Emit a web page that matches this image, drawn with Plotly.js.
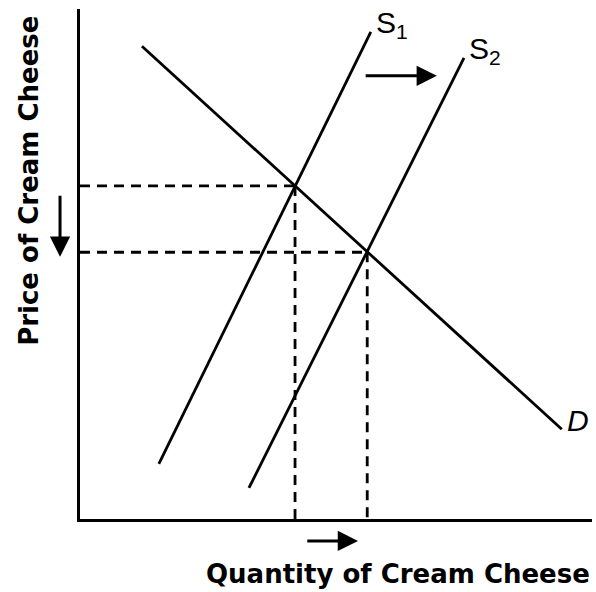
<!DOCTYPE html>
<html>
<head>
<meta charset="utf-8">
<script src="https://cdn.plot.ly/plotly-3.0.1.min.js"></script>
<style>html,body{margin:0;padding:0;background:#fff;}#chart{width:596px;height:592px;}</style>
</head>
<body>
<div id="chart"></div>
<script>
// Demand curve D (quantity, price)
const demandQ = [1.21, 9.41];
const demandP = [9.27, 1.76];
// Supply S1
const supply1Q = [1.54, 5.68];
const supply1P = [1.08, 9.55];
// Supply S2
const supply2Q = [3.30, 7.50];
const supply2P = [0.61, 9.04];
// Equilibria (E1 with S1, E2 with S2)
const eqQ = [4.20, 5.61];
const eqP = [6.53, 5.23];
// Shift arrow (S1 -> S2): tail and head quantity, price level
const shiftArrowQ = [5.55, 6.97];
const shiftArrowP = 8.69;
// Quantity change arrow (below axis): tail and head quantity
const qtyArrowQ = [4.41, 5.43];
// Price change arrow (left of axis): tail and head price
const priceArrowP = [6.37, 5.14];
// Labels
const labels = {D: 'D', S1: 'S<sub>1</sub>', S2: 'S<sub>2</sub>'};
const xTitle = 'Quantity of Cream Cheese';
const yTitle = 'Price of Cream Cheese';

const solid = {color: '#000', width: 2.8};
const dashed = {color: '#000', width: 2.8, dash: '10px,7px'};

const traces = [
  {x: demandQ, y: demandP, mode: 'lines', line: solid, hoverinfo: 'skip'},
  {x: supply1Q, y: supply1P, mode: 'lines', line: solid, hoverinfo: 'skip'},
  {x: supply2Q, y: supply2P, mode: 'lines', line: solid, hoverinfo: 'skip'},
];
eqQ.forEach((q, i) => {
  traces.push({x: [0, q], y: [eqP[i], eqP[i]], mode: 'lines', line: dashed, hoverinfo: 'skip'});
  traces.push({x: [q, q], y: [eqP[i], 0], mode: 'lines', line: dashed, hoverinfo: 'skip'});
});

const labelFont = {family: 'Liberation Sans, Arial, sans-serif', size: 30, color: '#000'};
const titleFont = {family: 'DejaVu Sans, sans-serif', size: 26, color: '#000', weight: 'bold'};
const arrowCommon = {text: '', showarrow: true, arrowhead: 2, arrowsize: 1.35, arrowwidth: 3, arrowcolor: '#000', standoff: 0, startstandoff: 0};

const annotations = [
  {x: supply1Q[1], y: supply1P[1], xref: 'x', yref: 'y', text: labels.S1, showarrow: false,
   xanchor: 'left', yanchor: 'middle', xshift: 3, yshift: 7, font: labelFont},
  {x: supply2Q[1], y: supply2P[1], xref: 'x', yref: 'y', text: labels.S2, showarrow: false,
   xanchor: 'left', yanchor: 'middle', xshift: 3, yshift: 7, font: labelFont},
  {x: demandQ[1], y: demandP[1], xref: 'x', yref: 'y', text: '<i>' + labels.D + '</i>', showarrow: false,
   xanchor: 'left', yanchor: 'middle', xshift: 3, yshift: 9, font: labelFont},
  Object.assign({x: shiftArrowQ[1], y: shiftArrowP, xref: 'x', yref: 'y',
   ax: shiftArrowQ[0], ay: shiftArrowP, axref: 'x', ayref: 'y'}, arrowCommon),
  Object.assign({x: qtyArrowQ[1], y: -0.043, xref: 'x', yref: 'paper',
   ax: qtyArrowQ[0], ay: 0, axref: 'x', ayref: 'pixel'}, arrowCommon),
  Object.assign({x: -0.039, y: priceArrowP[1], xref: 'paper', yref: 'y',
   ax: 0, ay: priceArrowP[0], axref: 'pixel', ayref: 'y'}, arrowCommon),
  {x: 1.0, y: -0.108, xref: 'paper', yref: 'paper', text: xTitle, showarrow: false,
   xanchor: 'right', yanchor: 'middle', font: titleFont},
  {x: -0.0996, y: 0.663, xref: 'paper', yref: 'paper', text: yTitle, showarrow: false,
   textangle: -90, xanchor: 'center', yanchor: 'middle', font: titleFont},
];

const axisBase = {range: [0, 10], showline: true, linewidth: 3, linecolor: '#000',
  showgrid: false, zeroline: false, showticklabels: false, ticks: '', fixedrange: true};

const layout = {
  width: 596, height: 592,
  margin: {l: 80, r: 4, t: 9, b: 73},
  paper_bgcolor: '#fff', plot_bgcolor: '#fff',
  showlegend: false,
  xaxis: Object.assign({}, axisBase),
  yaxis: Object.assign({}, axisBase),
  annotations: annotations,
};

Plotly.newPlot('chart', traces, layout, {displayModeBar: false, staticPlot: true});
</script>
</body>
</html>
